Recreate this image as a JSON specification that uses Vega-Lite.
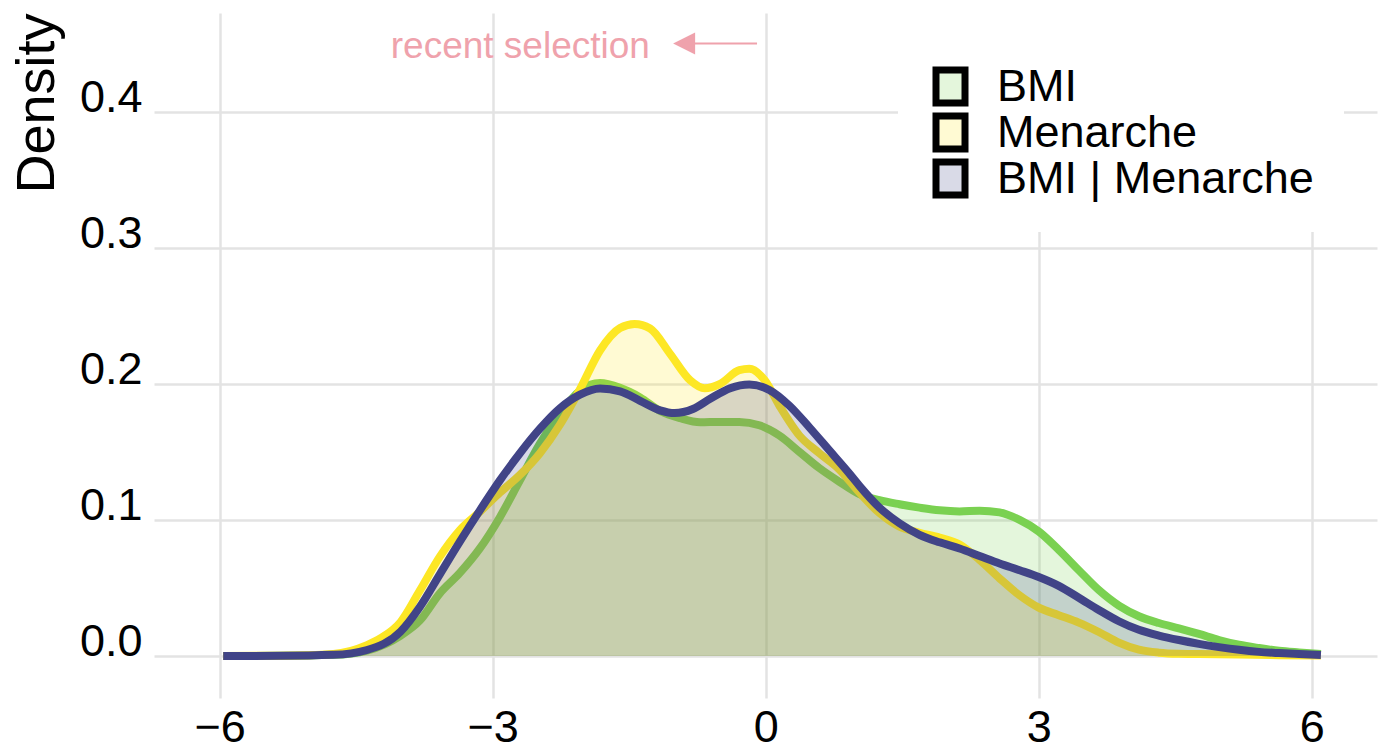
{
  "$schema": "https://vega.github.io/schema/vega-lite/v6.json",
  "width": 1223,
  "height": 685,
  "autosize": {"type": "none"},
  "padding": {"left": 154, "top": 13, "right": 12, "bottom": 52},
  "background": "white",
  "config": {
    "view": {"stroke": null},
    "font": "Liberation Sans",
    "axis": {
      "domain": false,
      "ticks": false,
      "labelFont": "Liberation Sans",
      "labelFontSize": 45,
      "labelColor": "black",
      "labelPadding": 12,
      "labelFlush": false,
      "labelBound": false,
      "labelOverlap": false,
      "gridColor": "#E3E3E3",
      "gridWidth": 2.5,
      "gridOpacity": 1
    },
    "legend": {
      "titleFontSize": 22,
      "titlePadding": 0,
      "orient": "none",
      "legendX": 744,
      "legendY": 0,
      "padding": 30,
      "fillColor": "white",
      "symbolType": "M-0.879,-1H0.879V1H-0.879Z",
      "symbolSize": 1089,
      "symbolStrokeWidth": 7,
      "symbolStrokeColor": "black",
      "symbolOpacity": 1,
      "labelFont": "Liberation Sans",
      "labelFontSize": 45,
      "labelColor": "black",
      "labelLimit": 600,
      "labelOffset": 24,
      "clipHeight": 43,
      "rowPadding": 0
    }
  },
  "datasets": {
    "curves": [
      {"s": "BMI", "x": -5.96, "d": 0},
      {"s": "BMI", "x": -5.33, "d": 0.0001},
      {"s": "BMI", "x": -4.75, "d": 0.0008},
      {"s": "BMI", "x": -4.38, "d": 0.004},
      {"s": "BMI", "x": -4.01, "d": 0.015},
      {"s": "BMI", "x": -3.8, "d": 0.026},
      {"s": "BMI", "x": -3.58, "d": 0.046},
      {"s": "BMI", "x": -3.36, "d": 0.061},
      {"s": "BMI", "x": -3.14, "d": 0.079},
      {"s": "BMI", "x": -2.92, "d": 0.102},
      {"s": "BMI", "x": -2.7, "d": 0.129},
      {"s": "BMI", "x": -2.48, "d": 0.156},
      {"s": "BMI", "x": -2.26, "d": 0.178},
      {"s": "BMI", "x": -2.04, "d": 0.195},
      {"s": "BMI", "x": -1.82, "d": 0.2005},
      {"s": "BMI", "x": -1.6, "d": 0.197},
      {"s": "BMI", "x": -1.38, "d": 0.19},
      {"s": "BMI", "x": -1.16, "d": 0.18},
      {"s": "BMI", "x": -0.94, "d": 0.1747},
      {"s": "BMI", "x": -0.72, "d": 0.1717},
      {"s": "BMI", "x": -0.5, "d": 0.172},
      {"s": "BMI", "x": -0.29, "d": 0.172},
      {"s": "BMI", "x": -0.07, "d": 0.1695},
      {"s": "BMI", "x": 0.15, "d": 0.162},
      {"s": "BMI", "x": 0.37, "d": 0.15},
      {"s": "BMI", "x": 0.59, "d": 0.138},
      {"s": "BMI", "x": 0.81, "d": 0.128},
      {"s": "BMI", "x": 1.03, "d": 0.119},
      {"s": "BMI", "x": 1.25, "d": 0.1145},
      {"s": "BMI", "x": 1.47, "d": 0.1115},
      {"s": "BMI", "x": 1.69, "d": 0.109},
      {"s": "BMI", "x": 1.91, "d": 0.107},
      {"s": "BMI", "x": 2.13, "d": 0.1062},
      {"s": "BMI", "x": 2.35, "d": 0.1068},
      {"s": "BMI", "x": 2.57, "d": 0.1055},
      {"s": "BMI", "x": 2.79, "d": 0.1},
      {"s": "BMI", "x": 3.0, "d": 0.0915},
      {"s": "BMI", "x": 3.22, "d": 0.078},
      {"s": "BMI", "x": 3.44, "d": 0.063},
      {"s": "BMI", "x": 3.66, "d": 0.0484},
      {"s": "BMI", "x": 3.88, "d": 0.037},
      {"s": "BMI", "x": 4.1, "d": 0.0292},
      {"s": "BMI", "x": 4.32, "d": 0.0242},
      {"s": "BMI", "x": 4.54, "d": 0.0203},
      {"s": "BMI", "x": 4.76, "d": 0.0162},
      {"s": "BMI", "x": 4.98, "d": 0.0117},
      {"s": "BMI", "x": 5.2, "d": 0.0082},
      {"s": "BMI", "x": 5.42, "d": 0.0058},
      {"s": "BMI", "x": 5.64, "d": 0.0038},
      {"s": "BMI", "x": 5.86, "d": 0.0026},
      {"s": "BMI", "x": 6.1, "d": 0.0015},

      {"s": "Menarche", "x": -5.96, "d": 0},
      {"s": "Menarche", "x": -5.33, "d": 0.0002},
      {"s": "Menarche", "x": -4.75, "d": 0.0015},
      {"s": "Menarche", "x": -4.38, "d": 0.008},
      {"s": "Menarche", "x": -4.23, "d": 0.013},
      {"s": "Menarche", "x": -4.01, "d": 0.025},
      {"s": "Menarche", "x": -3.8, "d": 0.048},
      {"s": "Menarche", "x": -3.58, "d": 0.073},
      {"s": "Menarche", "x": -3.36, "d": 0.0925},
      {"s": "Menarche", "x": -3.14, "d": 0.106},
      {"s": "Menarche", "x": -2.92, "d": 0.12},
      {"s": "Menarche", "x": -2.7, "d": 0.133},
      {"s": "Menarche", "x": -2.48, "d": 0.149},
      {"s": "Menarche", "x": -2.26, "d": 0.17},
      {"s": "Menarche", "x": -2.04, "d": 0.196},
      {"s": "Menarche", "x": -1.82, "d": 0.2245},
      {"s": "Menarche", "x": -1.6, "d": 0.241},
      {"s": "Menarche", "x": -1.44, "d": 0.244},
      {"s": "Menarche", "x": -1.27, "d": 0.2407},
      {"s": "Menarche", "x": -1.05, "d": 0.222},
      {"s": "Menarche", "x": -0.83, "d": 0.2026},
      {"s": "Menarche", "x": -0.67, "d": 0.1967},
      {"s": "Menarche", "x": -0.5, "d": 0.2},
      {"s": "Menarche", "x": -0.29, "d": 0.21},
      {"s": "Menarche", "x": -0.18, "d": 0.211},
      {"s": "Menarche", "x": -0.01, "d": 0.2026},
      {"s": "Menarche", "x": 0.15, "d": 0.184},
      {"s": "Menarche", "x": 0.37, "d": 0.162},
      {"s": "Menarche", "x": 0.59, "d": 0.149},
      {"s": "Menarche", "x": 0.81, "d": 0.137},
      {"s": "Menarche", "x": 1.03, "d": 0.12},
      {"s": "Menarche", "x": 1.25, "d": 0.105},
      {"s": "Menarche", "x": 1.47, "d": 0.095},
      {"s": "Menarche", "x": 1.69, "d": 0.0905},
      {"s": "Menarche", "x": 1.91, "d": 0.087},
      {"s": "Menarche", "x": 2.13, "d": 0.082},
      {"s": "Menarche", "x": 2.35, "d": 0.0705},
      {"s": "Menarche", "x": 2.57, "d": 0.057},
      {"s": "Menarche", "x": 2.79, "d": 0.0445},
      {"s": "Menarche", "x": 3.0, "d": 0.0355},
      {"s": "Menarche", "x": 3.22, "d": 0.03},
      {"s": "Menarche", "x": 3.44, "d": 0.0245},
      {"s": "Menarche", "x": 3.66, "d": 0.0176},
      {"s": "Menarche", "x": 3.88, "d": 0.0098},
      {"s": "Menarche", "x": 4.1, "d": 0.0046},
      {"s": "Menarche", "x": 4.32, "d": 0.0024},
      {"s": "Menarche", "x": 4.54, "d": 0.0016},
      {"s": "Menarche", "x": 4.76, "d": 0.0014},
      {"s": "Menarche", "x": 5.2, "d": 0.001},
      {"s": "Menarche", "x": 5.64, "d": 0.0006},
      {"s": "Menarche", "x": 6.1, "d": 0.0003},

      {"s": "BMI | Menarche", "x": -5.96, "d": 0},
      {"s": "BMI | Menarche", "x": -5.33, "d": 0.0001},
      {"s": "BMI | Menarche", "x": -4.75, "d": 0.0008},
      {"s": "BMI | Menarche", "x": -4.38, "d": 0.0044},
      {"s": "BMI | Menarche", "x": -4.01, "d": 0.018},
      {"s": "BMI | Menarche", "x": -3.8, "d": 0.036},
      {"s": "BMI | Menarche", "x": -3.58, "d": 0.06},
      {"s": "BMI | Menarche", "x": -3.36, "d": 0.084},
      {"s": "BMI | Menarche", "x": -3.14, "d": 0.107},
      {"s": "BMI | Menarche", "x": -2.92, "d": 0.129},
      {"s": "BMI | Menarche", "x": -2.7, "d": 0.149},
      {"s": "BMI | Menarche", "x": -2.48, "d": 0.167},
      {"s": "BMI | Menarche", "x": -2.26, "d": 0.182},
      {"s": "BMI | Menarche", "x": -2.04, "d": 0.192},
      {"s": "BMI | Menarche", "x": -1.82, "d": 0.1965},
      {"s": "BMI | Menarche", "x": -1.6, "d": 0.1945},
      {"s": "BMI | Menarche", "x": -1.38, "d": 0.1875},
      {"s": "BMI | Menarche", "x": -1.16, "d": 0.1805},
      {"s": "BMI | Menarche", "x": -1.0, "d": 0.1785},
      {"s": "BMI | Menarche", "x": -0.8, "d": 0.1815},
      {"s": "BMI | Menarche", "x": -0.61, "d": 0.189},
      {"s": "BMI | Menarche", "x": -0.39, "d": 0.1968},
      {"s": "BMI | Menarche", "x": -0.18, "d": 0.1995},
      {"s": "BMI | Menarche", "x": 0.04, "d": 0.1955},
      {"s": "BMI | Menarche", "x": 0.26, "d": 0.184},
      {"s": "BMI | Menarche", "x": 0.48, "d": 0.168},
      {"s": "BMI | Menarche", "x": 0.7, "d": 0.151},
      {"s": "BMI | Menarche", "x": 0.92, "d": 0.134},
      {"s": "BMI | Menarche", "x": 1.03, "d": 0.125},
      {"s": "BMI | Menarche", "x": 1.25, "d": 0.109},
      {"s": "BMI | Menarche", "x": 1.47, "d": 0.0975},
      {"s": "BMI | Menarche", "x": 1.69, "d": 0.089},
      {"s": "BMI | Menarche", "x": 1.91, "d": 0.0835},
      {"s": "BMI | Menarche", "x": 2.13, "d": 0.079},
      {"s": "BMI | Menarche", "x": 2.35, "d": 0.0735},
      {"s": "BMI | Menarche", "x": 2.57, "d": 0.068},
      {"s": "BMI | Menarche", "x": 2.79, "d": 0.063},
      {"s": "BMI | Menarche", "x": 3.0, "d": 0.058},
      {"s": "BMI | Menarche", "x": 3.22, "d": 0.0515},
      {"s": "BMI | Menarche", "x": 3.44, "d": 0.0428},
      {"s": "BMI | Menarche", "x": 3.66, "d": 0.0338},
      {"s": "BMI | Menarche", "x": 3.88, "d": 0.0255},
      {"s": "BMI | Menarche", "x": 4.1, "d": 0.0192},
      {"s": "BMI | Menarche", "x": 4.32, "d": 0.015},
      {"s": "BMI | Menarche", "x": 4.54, "d": 0.0117},
      {"s": "BMI | Menarche", "x": 4.76, "d": 0.0089},
      {"s": "BMI | Menarche", "x": 4.98, "d": 0.0065},
      {"s": "BMI | Menarche", "x": 5.2, "d": 0.0045},
      {"s": "BMI | Menarche", "x": 5.42, "d": 0.003},
      {"s": "BMI | Menarche", "x": 5.64, "d": 0.0021},
      {"s": "BMI | Menarche", "x": 5.86, "d": 0.0014},
      {"s": "BMI | Menarche", "x": 6.1, "d": 0.0007}
    ],
    "note": [{"x": -1.272, "y": 0.4396, "label": "recent selection"}],
    "arrow": [{"x": -0.83, "x2": -0.095, "y": 0.45}],
    "head": [{"x": -0.896, "y": 0.45}]
  },
  "encoding": {
    "x": {
      "field": "x",
      "type": "quantitative",
      "scale": {"domain": [-6.72, 6.716], "nice": false, "zero": false},
      "axis": {"values": [-6, -3, 0, 3, 6], "format": "d", "title": null, "labelPadding": 7}
    },
    "y": {
      "field": "d",
      "type": "quantitative",
      "stack": null,
      "scale": {"domain": [-0.0309, 0.4725], "nice": false, "zero": false},
      "axis": {
        "values": [0, 0.1, 0.2, 0.3, 0.4],
        "format": ".1f",
        "title": "Density",
        "titleFont": "Liberation Sans",
        "titleFontSize": 54,
        "titleFontWeight": "normal",
        "titleColor": "black",
        "titleAngle": 270,
        "titleAlign": "right",
        "titleBaseline": "alphabetic",
        "titleX": -101,
        "titleY": 0,
        "labelBaseline": "alphabetic"
      }
    }
  },
  "layer": [
    {
      "data": {"name": "curves"},
      "transform": [{"filter": "datum.s === 'BMI'"}],
      "layer": [
        {
          "mark": {"type": "area", "fillOpacity": 0.2, "interpolate": "monotone"},
          "encoding": {
            "fill": {
              "field": "s",
              "type": "nominal",
              "scale": {"domain": ["BMI", "Menarche", "BMI | Menarche"], "range": ["#7AD151", "#FDE725", "#414487"]},
              "legend": {
                "title": " ",
                "encode": {
                  "symbols": {
                    "update": {
                      "fillOpacity": {"value": 0.2},
                      "stroke": {"value": "black"},
                      "strokeWidth": {"value": 7},
                      "opacity": {"value": 1}
                    }
                  }
                }
              }
            }
          }
        },
        {"mark": {"type": "line", "strokeWidth": 8, "interpolate": "monotone", "color": "#7AD151"}}
      ]
    },
    {
      "data": {"name": "curves"},
      "transform": [{"filter": "datum.s === 'Menarche'"}],
      "layer": [
        {
          "mark": {"type": "area", "fillOpacity": 0.2, "interpolate": "monotone"},
          "encoding": {"fill": {"field": "s", "type": "nominal"}}
        },
        {"mark": {"type": "line", "strokeWidth": 8, "interpolate": "monotone", "color": "#FDE725"}}
      ]
    },
    {
      "data": {"name": "curves"},
      "transform": [{"filter": "datum.s === 'BMI | Menarche'"}],
      "layer": [
        {
          "mark": {"type": "area", "fillOpacity": 0.2, "interpolate": "monotone"},
          "encoding": {"fill": {"field": "s", "type": "nominal"}}
        },
        {"mark": {"type": "line", "strokeWidth": 8, "interpolate": "monotone", "color": "#414487"}}
      ]
    },
    {
      "data": {"name": "note"},
      "mark": {"type": "text", "align": "right", "baseline": "alphabetic", "fontSize": 37, "font": "Liberation Sans", "color": "#EFA2AC"},
      "encoding": {
        "x": {"field": "x", "type": "quantitative"},
        "y": {"field": "y", "type": "quantitative"},
        "text": {"field": "label"}
      }
    },
    {
      "data": {"name": "arrow"},
      "mark": {"type": "rule", "strokeWidth": 2, "color": "#EFA2AC"},
      "encoding": {
        "x": {"field": "x", "type": "quantitative"},
        "x2": {"field": "x2"},
        "y": {"field": "y", "type": "quantitative"}
      }
    },
    {
      "data": {"name": "head"},
      "mark": {"type": "point", "shape": "M-1,0L1,-1L1,1Z", "size": 484, "filled": true, "opacity": 1, "color": "#EFA2AC"},
      "encoding": {
        "x": {"field": "x", "type": "quantitative"},
        "y": {"field": "y", "type": "quantitative"}
      }
    }
  ]
}
